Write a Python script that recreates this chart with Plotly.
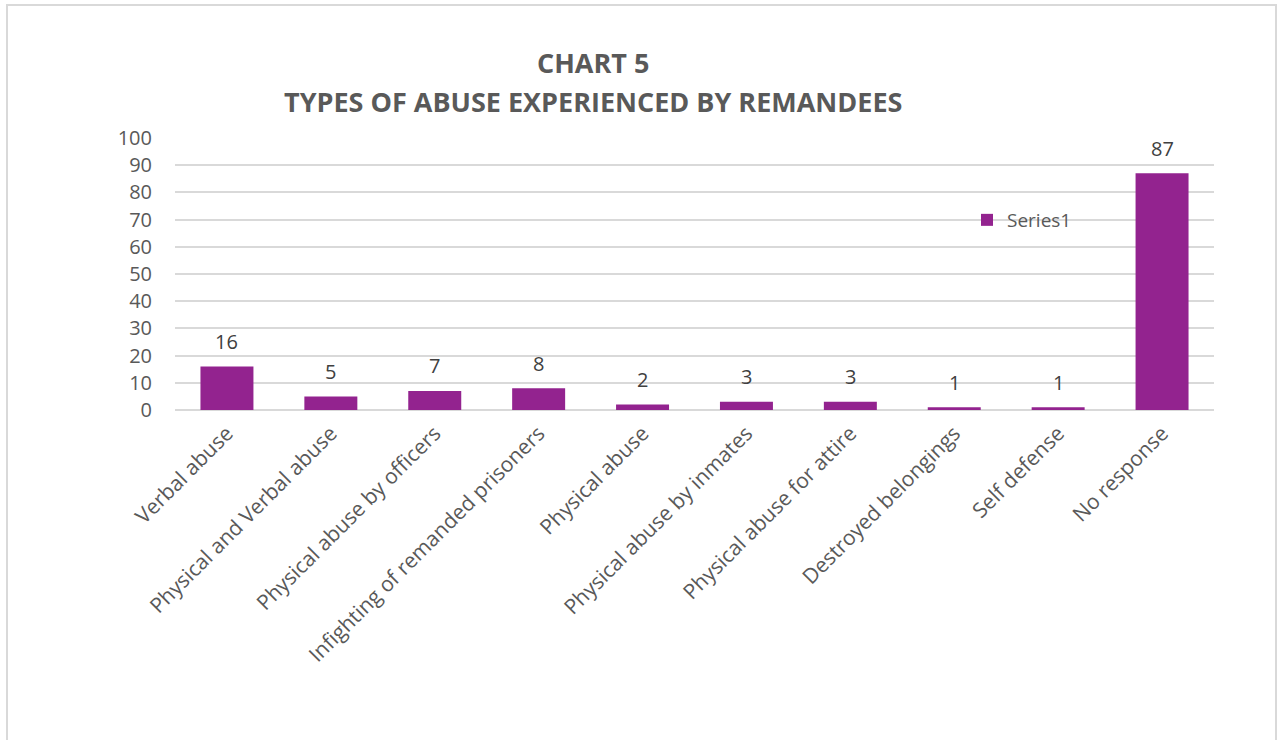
import plotly.graph_objects as go

categories = ["Verbal abuse", "Physical and Verbal abuse", "Physical abuse by officers",
              "Infighting of remanded prisoners", "Physical abuse", "Physical abuse by inmates",
              "Physical abuse for attire", "Destroyed belongings", "Self defense", "No response"]
values = [16, 5, 7, 8, 2, 3, 3, 1, 1, 87]
y_ticks = [0, 10, 20, 30, 40, 50, 60, 70, 80, 90, 100]
title_lines = ["CHART 5", "TYPES OF ABUSE EXPERIENCED BY REMANDEES"]
series_name = "Series1"

W, H = 1278, 740
L, R, T, B = 175, 1214, 138, 410
FONT = "'Open Sans', Carlito, Calibri, sans-serif"

def px_x(x):
    return (x - L) / (R - L)

def px_y(y):
    return (B - y) / (B - T)

fig = go.Figure()
fig.add_trace(go.Bar(
    x=categories, y=values, name=series_name,
    marker=dict(color="#93238F", line=dict(width=0)),
    width=0.51,
    showlegend=True,
))

for c, v in zip(categories, values):
    fig.add_annotation(x=c, y=v, text=str(v), showarrow=False, yshift=25,
                       xanchor="center", yanchor="middle",
                       font=dict(family=FONT, size=20, color="#404040"))

fig.update_layout(
    width=W, height=H,
    margin=dict(l=L, r=W - R, t=T, b=H - B, autoexpand=False),
    paper_bgcolor="white", plot_bgcolor="white",
    font=dict(family=FONT, color="#595959"),
    showlegend=True,
    legend=dict(x=px_x(967), y=px_y(201), xanchor="left", yanchor="top",
                font=dict(family=FONT, size=19, color="#595959"),
                bgcolor="rgba(0,0,0,0)", itemwidth=30),
    bargap=0.49,
)
fig.update_yaxes(range=[0, 100], tickvals=y_ticks, showgrid=True, gridcolor="#D9D9D9",
                 gridwidth=1.5, zeroline=True, zerolinecolor="#D9D9D9", zerolinewidth=1.5,
                 tickfont=dict(family=FONT, size=20, color="#595959"), ticks="",
                 ticklabelstandoff=22, showline=False, fixedrange=True)
fig.update_xaxes(tickangle=-45, tickfont=dict(family=FONT, size=21, color="#595959"),
                 ticklabelstandoff=6,
                 showline=False, ticks="", showgrid=False, fixedrange=True)

for t, yp in zip(title_lines, [62, 101]):
    fig.add_annotation(text=f"<b>{t}</b>", xref="paper", yref="paper",
                       x=px_x(593), y=px_y(yp), xanchor="center", yanchor="middle",
                       showarrow=False, font=dict(family=FONT, size=27, color="#595959"))

fig.add_shape(type="rect", xref="paper", yref="paper",
              x0=px_x(7), x1=px_x(1276), y0=px_y(760), y1=px_y(5),
              line=dict(color="#D9D9D9", width=2), fillcolor="rgba(0,0,0,0)", layer="below")

fig.write_html("out.html", config={"displayModeBar": False},
               post_script="document.body.style.margin='0';")
